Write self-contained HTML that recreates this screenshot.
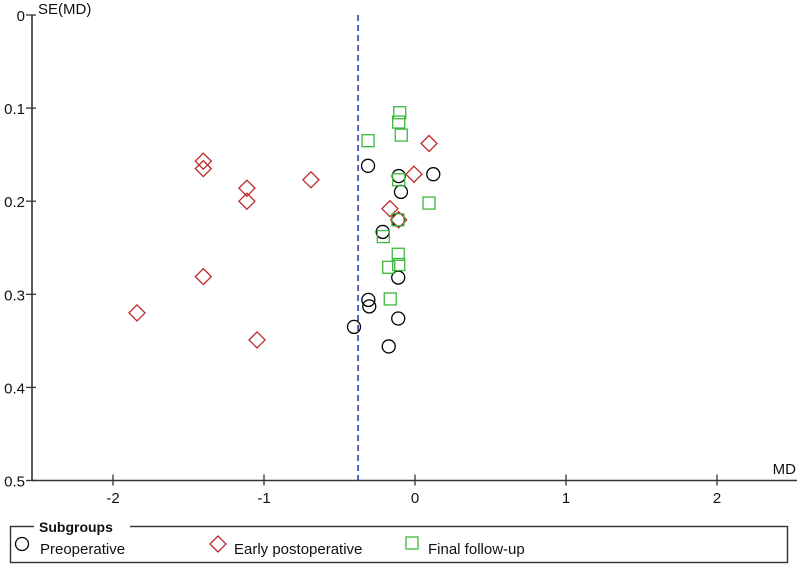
<!DOCTYPE html>
<html><head><meta charset="utf-8"><style>
body{margin:0;background:#fff;}
svg text{font-family:"Liberation Sans",Arial,sans-serif;font-size:15px;fill:#111;}
</style></head><body>
<svg id="chart" width="797" height="564" viewBox="0 0 797 564" xmlns="http://www.w3.org/2000/svg">
<g id="axes"></g>
<g id="marks"></g>
<g id="legend">
<rect x="10.5" y="526.5" width="777" height="36" fill="none" stroke="#333" stroke-width="1.4"/>
<rect x="34" y="518" width="96" height="14" fill="#fff"/>
<text x="39" y="532" style="font-weight:bold;font-size:14px">Subgroups</text>
<g><circle cx="22" cy="544" r="6.5" fill="none" stroke="#000" stroke-width="1.3"/><text x="40" y="554" style="font-size:15px">Preoperative</text></g>
<g><path d="M218 536 L226 544 L218 552 L210 544 Z" fill="none" stroke="#c0282a" stroke-width="1.3"/><text x="234" y="554" style="font-size:15px">Early postoperative</text></g>
<g><rect x="406" y="537" width="12" height="12" fill="none" stroke="#3cb83c" stroke-width="1.3"/><text x="428" y="554" style="font-size:15px">Final follow-up</text></g>
</g>
</svg>
<script>
const preMD=[-0.311,-0.108,0.121,-0.093,-0.113,-0.214,-0.111,-0.309,-0.303,-0.111,-0.404,-0.174];
const preSE=[0.162,0.173,0.171,0.190,0.220,0.233,0.282,0.306,0.313,0.326,0.335,0.356];
const earlyMD=[0.093,-0.007,-0.166,-0.108,-1.402,-1.402,-1.113,-1.113,-0.689,-1.402,-1.841,-1.046];
const earlySE=[0.138,0.171,0.208,0.220,0.157,0.165,0.186,0.200,0.177,0.281,0.320,0.349];
const finalMD=[-0.101,-0.108,-0.091,-0.311,-0.108,0.093,-0.113,-0.210,-0.111,-0.174,-0.108,-0.164];
const finalSE=[0.105,0.115,0.129,0.135,0.177,0.202,0.220,0.238,0.257,0.271,0.268,0.305];
const pooledMD=-0.377;
const xTicks=[-2,-1,0,1,2];
const yTicks=[0,0.1,0.2,0.3,0.4,0.5];
const yTickLabels=["0","0.1","0.2","0.3","0.4","0.5"];

const NS="http://www.w3.org/2000/svg";
const sx=v=>415+151*v;
const sy=v=>15+931*v;
function mk(tag,attrs,parent){const e=document.createElementNS(NS,tag);for(const k in attrs)e.setAttribute(k,attrs[k]);parent.appendChild(e);return e;}
const axes=document.getElementById('axes'), marks=document.getElementById('marks');
let yl=mk('line',{x1:32,y1:sy(0),x2:32,y2:sy(0.5),stroke:'#333','stroke-width':1.6},axes);


let xl=mk('line',{x1:32,y1:sy(0.5),x2:797,y2:sy(0.5),stroke:'#333','stroke-width':1.6},axes);


yTicks.forEach((t,i)=>{
  mk('line',{x1:26,y1:sy(t),x2:36,y2:sy(t),stroke:'#333','stroke-width':1.3},axes);
  const tx=mk('text',{x:25,y:sy(t)+6,'text-anchor':'end'},axes);tx.textContent=yTickLabels[i];
  
  
});
xTicks.forEach(t=>{
  mk('line',{x1:sx(t),y1:sy(0.5)-6,x2:sx(t),y2:sy(0.5)+5,stroke:'#333','stroke-width':1.3},axes);
  const tx=mk('text',{x:sx(t),y:503,'text-anchor':'middle'},axes);tx.textContent=String(t);
  
  
});
let yt=mk('text',{x:38,y:14},axes);yt.textContent='SE(MD)';


let xt=mk('text',{x:796,y:474,'text-anchor':'end'},axes);xt.textContent='MD';


let pl=mk('line',{x1:sx(pooledMD),y1:sy(0),x2:sx(pooledMD),y2:sy(0.5),stroke:'#1a32b0','stroke-width':1.5,'stroke-dasharray':'6,4'},axes);


preMD.forEach((m,i)=>{
  const c=mk('circle',{cx:sx(m),cy:sy(preSE[i]),r:6.5,fill:'none',stroke:'#000','stroke-width':1.3},marks);
  
  
});
earlyMD.forEach((m,i)=>{
  const x=sx(m),y=sy(earlySE[i]);
  const p=mk('path',{d:`M${x} ${y-8}L${x+8} ${y}L${x} ${y+8}L${x-8} ${y}Z`,fill:'none',stroke:'#c0282a','stroke-width':1.3},marks);
  
  
});
finalMD.forEach((m,i)=>{
  const r=mk('rect',{x:sx(m)-6,y:sy(finalSE[i])-6,width:12,height:12,fill:'none',stroke:'#3cb83c','stroke-width':1.3},marks);
  
  
});
</script>
</body></html>
